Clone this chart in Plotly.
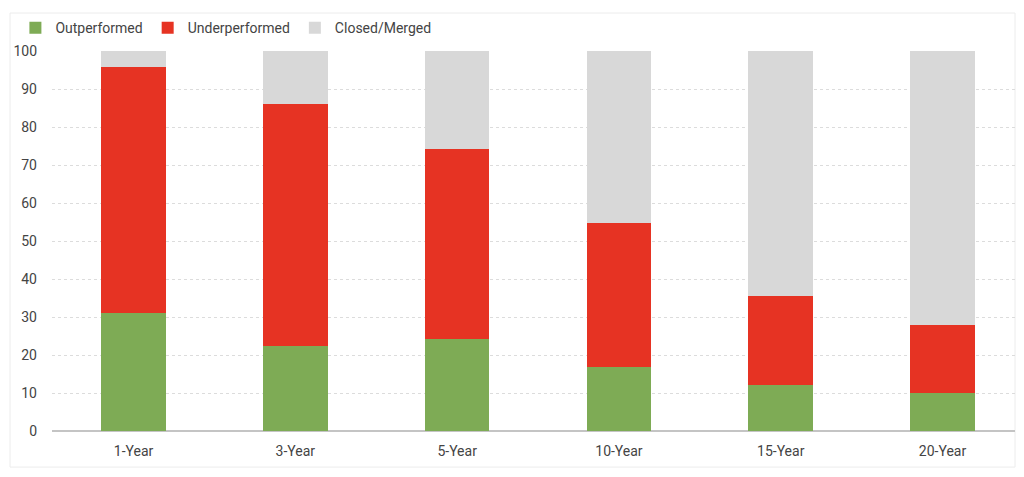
import plotly.graph_objects as go

# horizons on the x axis
periods = ['1-Year', '3-Year', '5-Year', '10-Year', '15-Year', '20-Year']
# % of funds in each bucket
outperformed = [31, 22.5, 24.3, 16.8, 12.1, 10]
underperformed = [64.8, 63.5, 49.9, 37.9, 23.4, 17.9]
closed_merged = [4.2, 14, 25.8, 45.3, 64.5, 72.1]

font_name = 'Roboto, sans-serif'

fig = go.Figure()
fig.add_trace(go.Bar(x=periods, y=outperformed, name='Outperformed',
                     marker=dict(color='#7eab55', line=dict(width=0)), width=0.4))
fig.add_trace(go.Bar(x=periods, y=underperformed, name='Underperformed',
                     marker=dict(color='#e63323', line=dict(width=0)), width=0.4))
fig.add_trace(go.Bar(x=periods, y=closed_merged, name='Closed/Merged',
                     marker=dict(color='#d8d8d8', line=dict(width=0)), width=0.4))

# page body has an 8px margin all round, so size the figure to fit inside it
fig.update_layout(
    barmode='stack',
    width=1008, height=461,
    margin=dict(l=44, r=1, t=43, b=38),
    paper_bgcolor='white', plot_bgcolor='white',
    font=dict(family=font_name, size=14, color='#444444'),
    legend=dict(orientation='h', x=-0.038, xanchor='left', y=1.06, yanchor='middle',
                font=dict(size=14, color='#444444'), itemwidth=30,
                traceorder='normal', bgcolor='rgba(0,0,0,0)'),
    bargap=0.6,
    # thin frame round the whole chart
    shapes=[dict(type='rect', xref='paper', yref='paper',
                 x0=-0.0436, x1=1.0, y0=-0.095, y1=1.1,
                 line=dict(color='#ececec', width=1), layer='below')],
)
fig.update_xaxes(range=[-0.504, 5.448], showgrid=False, showline=False,
                 ticks='', tickfont=dict(size=14, color='#444444'),
                 ticklabelstandoff=10)
fig.update_yaxes(range=[0, 100], dtick=10, showgrid=True,
                 gridcolor='#dcdcdc', griddash='dot', gridwidth=1,
                 zeroline=True, zerolinecolor='#c4c4c4', zerolinewidth=1.5,
                 showline=False, ticks='', ticklabelstandoff=14,
                 tickfont=dict(size=14, color='#444444'))

fig.write_html("out.html")
